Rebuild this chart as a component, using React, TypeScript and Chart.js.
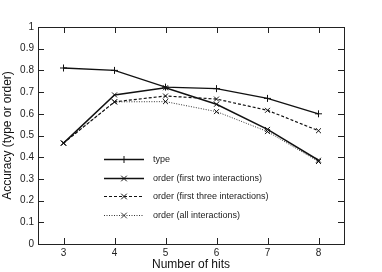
import React, { useEffect, useRef } from "react";
import { Chart, registerables } from "chart.js";

Chart.register(...registerables);

const hits = [3, 4, 5, 6, 7, 8];
const typeAcc = [0.811, 0.8, 0.723, 0.716, 0.671, 0.6];
const orderTwo = [0.465, 0.687, 0.72, 0.644, 0.528, 0.386];
const orderThree = [0.465, 0.655, 0.682, 0.668, 0.616, 0.522];
const orderAll = [0.465, 0.655, 0.656, 0.61, 0.518, 0.38];
const xTicks = [3, 4, 5, 6, 7, 8];
const yTickLabels = ["0", "0.1", "0.2", "0.3", "0.4", "0.5", "0.6", "0.7", "0.8", "0.9", "1"];
const seriesLabels = [
  "type",
  "order (first two interactions)",
  "order (first three interactions)",
  "order (all interactions)",
];

const FONT = "'Liberation Sans', Arial, Helvetica, sans-serif";

const framePlugin = {
  id: "frame",
  afterDatasetsDraw(chart: any) {
    const { ctx, chartArea } = chart;
    const { left, right, top, bottom } = chartArea;
    const xs = chart.scales.x;
    const ys = chart.scales.y;
    ctx.save();
    ctx.strokeStyle = "#222";
    ctx.lineWidth = 1;
    ctx.setLineDash([]);
    ctx.strokeRect(Math.round(left) + 0.5, Math.round(top) + 0.5, Math.round(right - left), Math.round(bottom - top));
    const tl = 6;
    ctx.beginPath();
    for (const v of xTicks) {
      const px = Math.round(xs.getPixelForValue(v)) + 0.5;
      ctx.moveTo(px, bottom);
      ctx.lineTo(px, bottom - tl);
      ctx.moveTo(px, top);
      ctx.lineTo(px, top + tl);
    }
    for (let i = 1; i < 10; i++) {
      const py = Math.round(ys.getPixelForValue(i / 10)) + 0.5;
      ctx.moveTo(left, py);
      ctx.lineTo(left + tl, py);
      ctx.moveTo(right, py);
      ctx.lineTo(right - tl, py);
    }
    ctx.stroke();

    // legend
    const lx0 = left + 66;
    const lx1 = left + 106;
    const tx = left + 115;
    const rows = [top + 132, top + 151, top + 169, top + 188];
    chart.data.datasets.forEach((ds: any, i: number) => {
      const y = Math.round(rows[i]) + 0.5;
      ctx.strokeStyle = ds.borderColor;
      ctx.lineWidth = ds.borderWidth;
      ctx.setLineDash(ds.borderDash || []);
      ctx.beginPath();
      ctx.moveTo(lx0, y);
      ctx.lineTo(lx1, y);
      ctx.stroke();
      ctx.setLineDash([]);
      ctx.lineWidth = 1;
      const cx = (lx0 + lx1) / 2;
      const r = 3.5;
      ctx.beginPath();
      if (ds.pointStyle === "cross") {
        ctx.moveTo(cx - r, y);
        ctx.lineTo(cx + r, y);
        ctx.moveTo(cx, y - r);
        ctx.lineTo(cx, y + r);
      } else {
        ctx.moveTo(cx - r * 0.8, y - r * 0.8);
        ctx.lineTo(cx + r * 0.8, y + r * 0.8);
        ctx.moveTo(cx - r * 0.8, y + r * 0.8);
        ctx.lineTo(cx + r * 0.8, y - r * 0.8);
      }
      ctx.stroke();
      ctx.fillStyle = "#222";
      ctx.font = `9px ${FONT}`;
      ctx.textBaseline = "middle";
      ctx.textAlign = "left";
      ctx.fillText(seriesLabels[i], tx, y);
    });
    ctx.restore();
  },
};

export default function App() {
  const ref = useRef<HTMLCanvasElement>(null);
  useEffect(() => {
    document.body.style.margin = "0";
    const mk = (d: number[], dash: number[], style: string, color: string, width: number) => ({
      data: hits.map((h, i) => ({ x: h, y: d[i] })),
      borderColor: color,
      backgroundColor: color,
      borderWidth: width,
      borderDash: dash,
      pointStyle: style,
      pointRadius: 3.5,
      pointBorderWidth: 1,
      pointBorderColor: "#111",
      tension: 0,
      fill: false,
    });
    const chart = new Chart(ref.current!, {
      type: "line",
      data: {
        datasets: [
          { label: seriesLabels[0], ...mk(typeAcc, [], "cross", "#111", 1.3) },
          { label: seriesLabels[1], ...mk(orderTwo, [], "crossRot", "#111", 1.5) },
          { label: seriesLabels[2], ...mk(orderThree, [3, 2], "crossRot", "#111", 1.2) },
          { label: seriesLabels[3], ...mk(orderAll, [1, 1.5], "crossRot", "#333", 1) },
        ] as any,
      },
      options: {
        animation: false,
        responsive: false,
        layout: { padding: { top: 27, right: 38, left: 0, bottom: 0 } },
        plugins: { legend: { display: false }, tooltip: { enabled: false } },
        scales: {
          x: {
            type: "linear",
            min: 2.5,
            max: 8.5,
            afterBuildTicks: (s: any) => {
              s.ticks = xTicks.map((v) => ({ value: v }));
            },
            afterFit: (s: any) => {
              s.height = 28;
            },
            grid: { display: false, drawTicks: false },
            border: { display: false },
            ticks: { color: "#222", font: { family: FONT, size: 10 }, padding: 3, maxRotation: 0 },
            title: {
              display: true,
              text: "Number of hits",
              color: "#111",
              font: { family: FONT, size: 12 },
              padding: { top: 0, bottom: 0 },
            },
          },
          y: {
            min: 0,
            max: 1,
            afterBuildTicks: (s: any) => {
              s.ticks = yTickLabels.map((_, i) => ({ value: i / 10 }));
            },
            ticks: {
              color: "#222",
              font: { family: FONT, size: 10 },
              padding: 4,
              callback: (_v: any, i: number) => yTickLabels[i],
            },
            afterFit: (s: any) => {
              s.width = 38;
            },
            grid: { display: false, drawTicks: false },
            border: { display: false },
            title: {
              display: true,
              text: "Accuracy (type or order)",
              color: "#111",
              font: { family: FONT, size: 12 },
              padding: { top: 0, bottom: 0 },
            },
          },
        },
      } as any,
      plugins: [framePlugin],
    });
    return () => chart.destroy();
  }, []);
  return (
    <div style={{ position: "absolute", left: 0, top: 0, width: 382, height: 272, background: "#fff" }}>
      <canvas ref={ref} width={382} height={272} style={{ display: "block" }} />
    </div>
  );
}
